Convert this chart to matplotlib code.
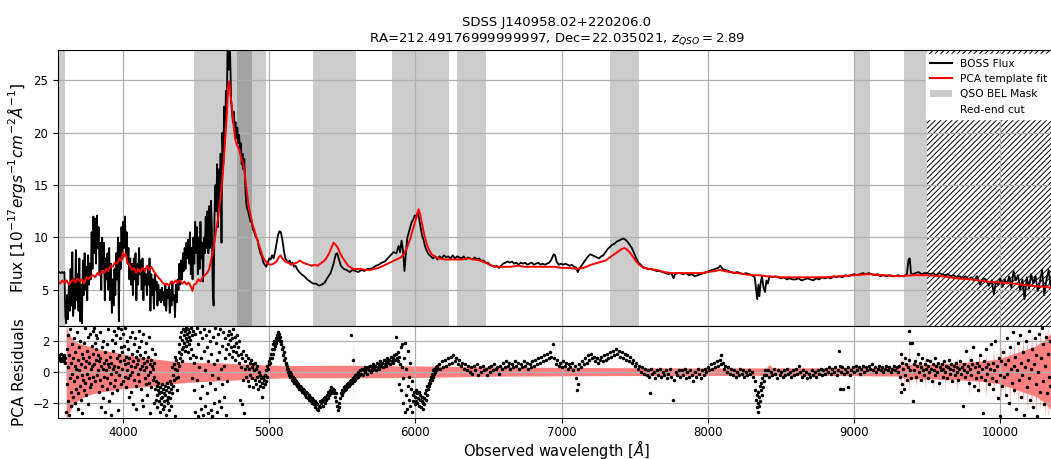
import numpy as np
import matplotlib
matplotlib.use("Agg")
import matplotlib.pyplot as plt
from matplotlib.patches import Patch
from matplotlib.lines import Line2D

plt.rcParams["hatch.linewidth"] = 0.7

# ---------------- data ----------------
TITLE = "SDSS J140958.02+220206.0\nRA=212.49176999999997, Dec=22.035021, $z_{QSO}=2.89$"

# BOSS flux (wavelength [A], flux)
boss_flux = [
    (3556, 6.6), (3565, 6.7), (3575, 6.6), (3585, 6.7), (3595, 6.6), (3600, 6.7),
    (3606, 2.5), (3612, 1.8), (3618, 4.5), (3624, 2.2), (3630, 5.5), (3636, 3.0), (3642, 7.0),
    (3648, 3.5), (3654, 8.6), (3660, 2.5), (3666, 6.0), (3672, 3.2), (3678, 8.8), (3684, 4.0),
    (3690, 6.5), (3696, 3.0), (3702, 8.0), (3708, 2.0), (3714, 5.5), (3720, 1.8), (3726, 7.8),
    (3732, 4.5), (3738, 8.5), (3744, 5.0), (3750, 7.2), (3756, 4.0), (3762, 8.3), (3768, 5.5),
    (3774, 7.5), (3780, 6.0), (3786, 10.5), (3792, 7.0), (3798, 12.0), (3804, 8.5), (3810, 11.8),
    (3816, 7.5), (3822, 12.1), (3828, 9.0), (3834, 11.0), (3840, 6.5), (3846, 9.5), (3852, 5.0),
    (3858, 10.0), (3864, 7.0), (3870, 9.5), (3876, 4.0), (3882, 8.0), (3888, 6.0), (3894, 8.5),
    (3900, 5.0), (3906, 9.0), (3912, 4.0), (3918, 7.5), (3924, 2.8), (3930, 6.0), (3936, 3.5),
    (3942, 7.0), (3948, 4.5), (3954, 8.5), (3960, 6.0), (3966, 10.0), (3972, 2.0), (3978, 9.5),
    (3984, 7.0), (3990, 11.0), (3996, 8.0), (4002, 11.5), (4008, 9.0), (4014, 12.0), (4020, 8.5),
    (4026, 10.5), (4032, 7.5), (4038, 9.0), (4044, 6.0), (4050, 8.0), (4056, 5.5), (4062, 7.5),
    (4068, 4.5), (4074, 8.0), (4080, 6.0), (4086, 8.5), (4092, 4.0), (4098, 7.5), (4104, 5.5),
    (4110, 9.0), (4116, 6.5), (4122, 7.8), (4128, 5.0), (4134, 8.0), (4140, 4.0), (4146, 7.0),
    (4152, 5.5), (4158, 6.5), (4164, 4.5), (4170, 7.0), (4176, 5.5), (4182, 8.0), (4188, 3.0),
    (4194, 6.5), (4200, 4.5), (4206, 6.0), (4212, 3.2), (4218, 6.5), (4224, 5.0), (4230, 5.8),
    (4236, 3.5), (4242, 5.5), (4248, 4.0), (4254, 5.0), (4260, 3.8), (4266, 5.2), (4272, 4.0),
    (4278, 4.8), (4284, 3.5), (4290, 5.5), (4296, 3.0), (4302, 5.0), (4308, 4.2), (4314, 5.3),
    (4320, 2.8), (4326, 5.0), (4332, 3.5), (4338, 5.8), (4344, 4.0), (4350, 4.5), (4356, 2.4),
    (4362, 5.5), (4368, 3.8), (4374, 6.0), (4380, 5.0), (4386, 7.5), (4392, 5.5), (4398, 7.8),
    (4404, 6.0), (4410, 8.5), (4416, 6.8), (4422, 9.0), (4428, 7.0), (4434, 9.5), (4440, 8.0),
    (4446, 9.8), (4452, 7.5), (4458, 10.5), (4464, 6.5), (4470, 9.0), (4476, 6.0), (4482, 10.0),
    (4488, 7.5), (4494, 11.5), (4500, 8.5), (4506, 11.0), (4512, 6.5), (4518, 10.0), (4524, 7.0),
    (4530, 11.5), (4536, 8.0), (4542, 9.5), (4548, 5.8), (4554, 10.0), (4560, 8.5), (4566, 12.0),
    (4572, 9.0), (4578, 12.5), (4584, 8.5), (4590, 13.0), (4596, 9.0), (4602, 13.5), (4608, 11.0),
    (4614, 5.0), (4620, 3.5), (4626, 12.0), (4632, 15.0), (4638, 12.5), (4644, 17.0), (4650, 11.0),
    (4656, 16.5), (4662, 13.0), (4668, 18.0), (4674, 9.5), (4680, 20.0), (4686, 17.0), (4692, 22.5),
    (4698, 19.0), (4704, 24.0), (4710, 22.0), (4716, 29.0), (4722, 26.0), (4728, 30.0), (4734, 27.0),
    (4740, 23.0), (4746, 22.0), (4752, 21.0), (4758, 22.0), (4764, 20.5), (4770, 21.0), (4776, 19.5),
    (4782, 20.5), (4788, 19.0), (4794, 19.8), (4800, 18.5), (4806, 19.0), (4812, 17.0), (4818, 18.0),
    (4824, 16.5), (4830, 17.5), (4836, 15.0), (4842, 13.5), (4848, 12.8), (4856, 12.5), (4864, 12.0),
    (4872, 11.5), (4880, 11.6), (4888, 10.8), (4896, 10.6), (4904, 10.2), (4912, 10.0), (4920, 9.8),
    (4930, 9.0), (4940, 8.5), (4950, 8.2), (4960, 7.6), (4970, 7.4), (4980, 7.2), (4990, 7.6),
    (5000, 8.0), (5010, 7.9), (5020, 8.3), (5030, 8.0), (5040, 8.6), (5050, 9.4), (5060, 10.2),
    (5070, 10.6), (5080, 10.5), (5090, 9.8), (5100, 8.8), (5110, 8.0), (5120, 7.8), (5130, 7.6),
    (5140, 7.8), (5150, 7.4), (5160, 7.6), (5170, 7.2), (5180, 7.3), (5190, 7.0), (5200, 6.8),
    (5220, 6.5), (5240, 6.3), (5260, 6.0), (5280, 5.8), (5300, 5.6), (5320, 5.6), (5340, 5.4),
    (5360, 5.5), (5380, 5.7), (5400, 6.2), (5420, 6.6), (5440, 7.5), (5455, 8.4), (5465, 8.5),
    (5475, 8.0), (5490, 7.3), (5510, 7.0), (5530, 6.9), (5550, 6.7), (5570, 6.9), (5590, 6.8),
    (5610, 6.7), (5630, 6.9), (5650, 6.8), (5670, 7.0), (5690, 7.0), (5710, 7.1), (5730, 7.3),
    (5750, 7.4), (5770, 7.6), (5790, 7.7), (5810, 8.0), (5830, 8.3), (5850, 8.6), (5870, 8.5),
    (5885, 9.2), (5895, 8.6), (5905, 9.7), (5915, 8.8), (5925, 6.8), (5935, 8.5), (5945, 10.0),
    (5955, 10.5), (5965, 11.0), (5975, 11.5), (5985, 11.7), (5995, 12.1), (6005, 12.0), (6015, 12.3),
    (6025, 11.8), (6035, 11.0), (6045, 10.2), (6055, 9.8), (6065, 9.2), (6075, 8.8), (6090, 8.4),
    (6105, 8.2), (6120, 8.0), (6135, 8.2), (6150, 7.9), (6165, 8.2), (6180, 8.0), (6195, 8.3),
    (6210, 8.1), (6225, 8.2), (6240, 8.0), (6255, 8.3), (6270, 8.0), (6285, 8.2), (6300, 8.1),
    (6315, 8.0), (6330, 8.2), (6345, 7.9), (6360, 8.1), (6375, 8.0), (6390, 7.9), (6405, 8.1),
    (6420, 7.9), (6435, 8.0), (6450, 7.8), (6465, 7.8), (6480, 7.6), (6495, 7.6), (6510, 7.4),
    (6525, 7.3), (6540, 7.2), (6555, 7.3), (6570, 7.1), (6585, 7.3), (6600, 7.5), (6615, 7.6),
    (6630, 7.7), (6645, 7.6), (6660, 7.7), (6675, 7.5), (6690, 7.6), (6705, 7.4), (6720, 7.6),
    (6735, 7.5), (6750, 7.6), (6765, 7.4), (6780, 7.5), (6795, 7.6), (6810, 7.4), (6825, 7.5),
    (6840, 7.6), (6855, 7.4), (6870, 7.5), (6885, 7.4), (6900, 7.5), (6915, 7.6), (6930, 7.9),
    (6945, 8.4), (6955, 8.3), (6965, 7.7), (6980, 7.4), (6995, 7.5), (7010, 7.4), (7025, 7.5),
    (7040, 7.4), (7055, 7.3), (7070, 7.4), (7085, 7.2), (7100, 7.1), (7110, 6.7), (7120, 7.0),
    (7135, 7.3), (7150, 7.6), (7165, 7.9), (7180, 8.2), (7195, 8.4), (7210, 8.3), (7225, 8.2),
    (7240, 8.1), (7255, 8.0), (7270, 8.2), (7285, 8.3), (7300, 8.6), (7315, 8.9), (7330, 9.1),
    (7345, 9.3), (7360, 9.4), (7375, 9.6), (7390, 9.7), (7405, 9.8), (7420, 9.9), (7435, 9.8),
    (7450, 9.6), (7465, 9.3), (7480, 9.0), (7495, 8.5), (7510, 8.0), (7525, 7.6), (7540, 7.4),
    (7555, 7.2), (7570, 7.1), (7590, 7.0), (7610, 7.0), (7630, 6.9), (7650, 6.8), (7670, 6.8),
    (7690, 6.7), (7710, 6.6), (7730, 6.5), (7750, 6.6), (7765, 6.1), (7775, 6.5), (7790, 6.6),
    (7810, 6.6), (7830, 6.5), (7850, 6.6), (7870, 6.4), (7890, 6.5), (7910, 6.3), (7930, 6.4),
    (7950, 6.5), (7970, 6.6), (7990, 6.7), (8010, 6.8), (8030, 6.9), (8050, 7.0), (8070, 7.1),
    (8085, 7.3), (8100, 7.0), (8120, 6.9), (8140, 6.8), (8160, 6.7), (8180, 6.6), (8200, 6.7),
    (8220, 6.6), (8240, 6.5), (8260, 6.6), (8280, 6.5), (8300, 6.4), (8320, 6.2), (8330, 5.0),
    (8337, 4.1), (8345, 5.5), (8352, 4.4), (8360, 5.6), (8370, 6.3), (8380, 5.2), (8390, 4.8),
    (8400, 5.9), (8410, 5.6), (8420, 6.3), (8440, 6.2), (8460, 6.3), (8480, 6.2), (8500, 6.1),
    (8520, 6.2), (8540, 6.0), (8560, 6.1), (8580, 6.0), (8600, 6.0), (8620, 6.1), (8640, 5.9),
    (8660, 6.0), (8680, 6.1), (8700, 6.0), (8720, 5.9), (8740, 6.1), (8760, 6.0), (8780, 6.2),
    (8800, 6.1), (8820, 6.2), (8840, 6.1), (8860, 6.3), (8880, 6.2), (8900, 6.3), (8920, 6.2),
    (8940, 6.4), (8960, 6.3), (8980, 6.4), (9000, 6.5), (9020, 6.4), (9040, 6.5), (9060, 6.6),
    (9080, 6.5), (9100, 6.6), (9120, 6.5), (9140, 6.4), (9160, 6.5), (9180, 6.3), (9200, 6.4),
    (9220, 6.3), (9240, 6.4), (9260, 6.3), (9280, 6.3), (9300, 6.4), (9320, 6.3), (9340, 6.3),
    (9360, 6.5), (9372, 7.9), (9380, 8.0), (9388, 6.6), (9400, 6.5), (9420, 6.6), (9440, 6.7),
    (9460, 6.5), (9480, 6.6), (9500, 6.6), (9520, 6.5), (9540, 6.6), (9560, 6.4), (9580, 6.6),
    (9600, 6.5), (9620, 6.4), (9640, 6.5), (9660, 6.3), (9680, 6.4), (9700, 6.2), (9720, 6.3),
    (9740, 6.1), (9760, 6.3), (9780, 6.0), (9800, 6.2), (9820, 5.9), (9840, 6.3), (9860, 5.5),
    (9880, 6.1), (9900, 6.0), (9920, 5.4), (9940, 5.9), (9955, 4.6), (9970, 5.8), (9985, 5.5),
    (10000, 6.1), (10015, 5.3), (10030, 6.0), (10045, 5.6), (10060, 6.3), (10075, 5.2), (10090, 6.8),
    (10105, 5.9), (10120, 6.4), (10135, 5.0), (10150, 6.0), (10165, 4.1), (10180, 6.2), (10195, 5.1),
    (10210, 6.5), (10225, 5.6), (10240, 6.3), (10255, 4.9), (10270, 5.8), (10285, 6.9), (10300, 4.5),
    (10315, 6.0), (10330, 6.9), (10345, 5.2),
]

# PCA template fit (wavelength [A], flux)
pca_fit = [
    (3556, 5.8), (3570, 5.6), (3585, 5.9), (3600, 5.7), (3615, 5.9), (3630, 5.5), (3645, 5.8),
    (3660, 6.0), (3675, 5.7), (3690, 6.1), (3705, 5.8), (3720, 6.0), (3735, 5.6), (3750, 6.2),
    (3765, 6.0), (3780, 6.3), (3795, 6.4), (3810, 6.2), (3825, 6.6), (3840, 6.4), (3855, 6.8),
    (3870, 6.6), (3885, 7.0), (3900, 6.8), (3915, 7.3), (3930, 7.2), (3945, 7.6), (3960, 7.5),
    (3975, 8.0), (3990, 7.8), (4000, 8.6), (4010, 8.2), (4020, 8.4), (4030, 7.6), (4045, 7.4),
    (4060, 6.9), (4075, 7.1), (4090, 6.6), (4105, 7.0), (4120, 6.7), (4135, 7.1), (4150, 6.8),
    (4165, 7.3), (4180, 6.9), (4195, 7.2), (4210, 6.8), (4225, 6.5), (4240, 6.2), (4255, 6.0),
    (4270, 5.7), (4285, 5.5), (4300, 5.6), (4315, 5.4), (4330, 5.8), (4345, 5.6), (4360, 5.9),
    (4375, 5.7), (4390, 5.9), (4405, 5.6), (4420, 5.8), (4435, 5.5), (4450, 5.7), (4465, 5.3),
    (4475, 4.9), (4485, 5.5), (4500, 5.6), (4515, 6.0), (4530, 5.8), (4545, 6.2), (4560, 6.4),
    (4575, 6.6), (4590, 7.0), (4605, 8.0), (4620, 9.0), (4635, 10.5), (4650, 11.8), (4665, 13.5),
    (4680, 15.5), (4695, 18.5), (4710, 21.7), (4720, 24.5), (4728, 24.9), (4736, 23.5), (4745, 22.5),
    (4755, 21.0), (4766, 19.5), (4780, 18.8), (4795, 18.4), (4805, 17.8), (4815, 17.3), (4825, 17.0),
    (4835, 15.8), (4846, 14.5), (4858, 13.2), (4870, 12.3), (4885, 11.3), (4903, 10.5), (4920, 9.7),
    (4937, 9.0), (4955, 8.2), (4971, 7.8), (4990, 7.5), (5010, 7.4), (5030, 7.5), (5050, 7.7),
    (5065, 8.1), (5078, 8.3), (5090, 8.0), (5110, 7.7), (5130, 7.6), (5150, 7.4), (5170, 7.5),
    (5190, 7.6), (5210, 7.8), (5230, 7.6), (5250, 7.5), (5270, 7.4), (5290, 7.3), (5310, 7.4),
    (5330, 7.3), (5350, 7.5), (5370, 7.7), (5390, 8.0), (5410, 8.5), (5425, 9.0), (5440, 9.5),
    (5455, 9.3), (5470, 9.0), (5485, 8.5), (5500, 8.1), (5520, 7.7), (5540, 7.3), (5560, 7.1),
    (5580, 7.0), (5600, 7.0), (5630, 7.0), (5660, 6.9), (5690, 6.9), (5720, 7.0), (5750, 7.1),
    (5780, 7.3), (5810, 7.5), (5840, 7.7), (5870, 7.9), (5900, 8.1), (5925, 8.5), (5945, 9.1),
    (5965, 9.9), (5985, 10.9), (6000, 11.6), (6012, 12.3), (6022, 12.7), (6032, 12.2), (6045, 11.3),
    (6060, 10.3), (6075, 9.5), (6090, 8.9), (6110, 8.4), (6130, 8.2), (6160, 8.0), (6200, 7.9),
    (6240, 7.9), (6280, 7.9), (6320, 7.9), (6360, 8.0), (6400, 7.9), (6440, 7.8), (6480, 7.6),
    (6520, 7.3), (6560, 7.2), (6600, 7.2), (6650, 7.2), (6700, 7.3), (6750, 7.2), (6800, 7.2),
    (6850, 7.2), (6900, 7.2), (6950, 7.2), (7000, 7.1), (7050, 7.1), (7100, 7.0), (7150, 7.1),
    (7200, 7.4), (7250, 7.6), (7300, 7.8), (7340, 8.2), (7380, 8.6), (7410, 8.9), (7430, 9.0),
    (7450, 8.8), (7470, 8.5), (7490, 8.1), (7510, 7.7), (7530, 7.4), (7560, 7.1), (7600, 7.0),
    (7650, 6.9), (7700, 6.7), (7750, 6.6), (7800, 6.6), (7850, 6.6), (7900, 6.6), (7950, 6.6),
    (8000, 6.7), (8050, 6.8), (8080, 6.9), (8110, 6.8), (8150, 6.7), (8200, 6.6), (8250, 6.5),
    (8300, 6.4), (8350, 6.4), (8400, 6.3), (8500, 6.2), (8600, 6.2), (8700, 6.2), (8800, 6.2),
    (8900, 6.3), (9000, 6.4), (9100, 6.5), (9200, 6.4), (9300, 6.3), (9400, 6.4), (9500, 6.4),
    (9600, 6.3), (9700, 6.1), (9800, 6.0), (9900, 5.8), (10000, 5.7), (10100, 5.6), (10200, 5.4),
    (10300, 5.3), (10345, 5.2),
]

# QSO broad-emission-line masks (start, end) [A]
bel_masks = [(3540, 3603), (4486, 4977), (4780, 4881), (5300, 5595), (5843, 6231),
             (6286, 6483), (7333, 7530), (9008, 9111), (9339, 9500)]
red_end_cut = 9500

# PCA residual error band: (wavelength, upper, lower magnitude)
resid_err = [
    (3611, 0.0, 0.0), (3612, 3.1, 3.1), (3625, 2.6, 2.8), (3650, 2.2, 2.3), (3675, 2.0, 2.0),
    (3700, 1.85, 1.8), (3762, 1.7, 1.5), (3850, 1.45, 1.3), (3991, 1.2, 1.1), (4100, 1.0, 1.0),
    (4219, 0.85, 0.9), (4330, 0.72, 0.78), (4447, 0.63, 0.67), (4676, 0.59, 0.56), (4904, 0.48, 0.45),
    (5130, 0.42, 0.38), (5500, 0.44, 0.38), (5574, 0.44, 0.38), (5576, 2.0, 1.8), (5578, 0.44, 0.38),
    (6000, 0.40, 0.36), (6500, 0.33, 0.28), (7000, 0.30, 0.25), (7500, 0.28, 0.23), (8000, 0.26, 0.22),
    (8400, 0.27, 0.22), (8420, 0.5, 0.2), (8440, 0.27, 0.22), (8900, 0.28, 0.23), (9300, 0.32, 0.27),
    (9315, 0.35, 0.3), (9318, 1.6, 1.7), (9321, 0.4, 0.35), (9340, 0.45, 0.4), (9343, 1.3, 1.0),
    (9346, 0.45, 0.4), (9370, 0.45, 0.4), (9373, 1.9, 1.4), (9376, 0.5, 0.4), (9420, 0.5, 0.45),
    (9423, 1.2, 0.9), (9426, 0.5, 0.45), (9480, 0.5, 0.45), (9483, 0.9, 1.1), (9486, 0.5, 0.45),
    (9540, 0.5, 0.45), (9543, 0.8, 1.2), (9546, 0.55, 0.45), (9620, 0.55, 0.5), (9623, 0.9, 1.1),
    (9626, 0.55, 0.5), (9700, 0.6, 0.5), (9703, 1.0, 1.3), (9706, 0.6, 0.5), (9780, 0.65, 0.55),
    (9783, 1.2, 1.5), (9786, 0.65, 0.55), (9850, 0.7, 0.6), (9853, 1.4, 1.3), (9856, 0.7, 0.6),
    (9900, 0.75, 0.65), (9903, 1.1, 1.8), (9906, 0.75, 0.65), (9950, 0.8, 0.7), (9953, 1.6, 1.2),
    (9956, 0.8, 0.7), (10000, 0.9, 0.8), (10003, 1.8, 1.9), (10006, 0.9, 0.8), (10030, 1.0, 0.9),
    (10033, 2.0, 1.5), (10036, 1.0, 0.9), (10060, 1.1, 1.0), (10063, 1.5, 2.2), (10066, 1.1, 1.0),
    (10090, 1.2, 1.1), (10093, 2.2, 1.7), (10096, 1.2, 1.1), (10120, 1.3, 1.2), (10123, 1.8, 2.4),
    (10126, 1.3, 1.2), (10150, 1.4, 1.3), (10153, 2.4, 2.0), (10156, 1.4, 1.3), (10180, 1.5, 1.4),
    (10183, 2.0, 2.6), (10186, 1.5, 1.4), (10210, 1.6, 1.5), (10213, 2.6, 2.2), (10216, 1.6, 1.5),
    (10240, 1.7, 1.6), (10243, 2.2, 2.8), (10246, 1.7, 1.6), (10270, 1.9, 1.8), (10273, 3.0, 2.5),
    (10276, 1.9, 1.8), (10300, 2.0, 2.0), (10303, 2.6, 3.0), (10306, 2.1, 2.0), (10320, 2.3, 2.2),
    (10323, 3.0, 3.0), (10326, 2.3, 2.2), (10345, 2.6, 2.5),
]

# PCA residuals (wavelength, residual)
resid_blue = [
    (3558, 1.0), (3562, 0.8), (3566, 1.1), (3570, 0.9), (3574, 0.7), (3578, 1.2), (3582, 0.9),
    (3586, 0.8), (3590, 1.0), (3594, 0.7), (3598, 1.1), (3602, 0.9), (3606, 0.6),
    (3612, -2.6), (3615, 1.5), (3618, -0.8), (3621, 2.4), (3624, -1.9), (3627, 0.3), (3630, -2.8),
    (3633, 1.1), (3636, -0.4), (3639, 2.8), (3642, -1.3), (3645, 0.6), (3648, -2.2), (3651, 1.8),
    (3654, -0.1), (3657, 0.9), (3660, -1.6), (3663, 2.2), (3666, -0.6), (3669, 0.4), (3672, -2.0),
    (3675, 1.3), (3678, -1.1), (3681, 0.2), (3684, 2.6), (3687, -0.3), (3690, -1.4), (3693, 0.8),
    (3696, -2.4), (3699, 1.6), (3702, 0.1), (3705, -0.9), (3708, 2.0), (3711, -1.8), (3714, 0.5),
    (3717, -0.2), (3720, 1.2), (3723, -2.7), (3726, 0.9), (3729, -0.5), (3732, 1.9), (3735, -1.2),
    (3738, 0.3), (3741, 2.9), (3744, -0.7), (3747, 0.7), (3750, -1.5), (3753, 1.4), (3756, -0.1),
    (3759, 2.3), (3762, -2.1), (3765, 0.6), (3768, -0.4), (3771, 1.0), (3774, -1.0), (3777, 2.5),
    (3780, 0.2), (3783, -0.8), (3786, 1.7), (3789, 0.4), (3792, 2.7), (3795, -0.3), (3798, 1.2),
    (3801, 2.9), (3804, 0.5), (3807, 1.9), (3810, -0.6), (3813, 2.4), (3816, 0.8), (3819, 1.5),
    (3822, -0.2), (3825, 2.2), (3828, 0.1), (3831, 1.1), (3834, -1.3), (3837, 0.7), (3840, 2.6),
    (3843, -0.5), (3846, 0.9), (3849, -2.3), (3852, 0.4), (3855, 1.6), (3858, -0.9), (3861, 0.2),
    (3864, 2.0), (3867, -1.7), (3870, 0.6), (3873, -0.3), (3876, 1.3), (3879, -2.6), (3882, 0.1),
    (3885, 0.8), (3888, -1.1), (3891, 1.8), (3894, -0.4), (3897, 0.5), (3900, 2.8), (3903, -1.9),
    (3906, 0.3), (3909, -0.7), (3912, 1.0), (3915, -2.8), (3918, 0.6), (3921, -0.1), (3924, 2.1),
    (3927, -1.4), (3930, 0.2), (3933, 1.4), (3936, -0.9), (3939, 2.7), (3942, 0.4), (3945, -0.5),
    (3948, 1.9), (3951, 0.0), (3954, 2.4), (3957, -1.2), (3960, 0.9), (3963, 2.9), (3966, 0.3),
    (3969, -2.5), (3972, 1.1), (3975, -0.2), (3978, 2.2), (3981, 0.7), (3984, -0.8), (3987, 1.6),
    (3990, 2.8), (3993, 0.2), (3996, 1.3), (3999, -0.6), (4002, 2.5), (4005, 0.8), (4008, 1.7),
    (4011, -0.3), (4014, 2.9), (4017, 0.5), (4020, 1.0), (4023, -1.0), (4026, 2.0), (4029, 0.1),
    (4032, -0.4), (4035, 1.5), (4038, 0.6), (4041, -1.6), (4044, 0.9), (4047, 2.3), (4050, -0.2),
    (4053, 0.4), (4056, -1.3), (4059, 1.2), (4062, 0.0), (4065, 2.6), (4068, -2.1), (4071, 0.7),
    (4074, 1.8), (4077, -0.5), (4080, 0.3), (4083, 2.2), (4086, 1.0), (4089, -0.9), (4092, -2.4),
    (4095, 0.5), (4098, 1.4), (4101, -0.1), (4104, 0.8), (4107, 2.7), (4110, 1.6), (4113, -0.6),
    (4116, 0.2), (4119, 1.1), (4122, -1.1), (4125, 2.0), (4128, 0.4), (4131, -1.8), (4134, 0.9),
    (4137, 2.5), (4140, -2.2), (4143, 0.1), (4146, 0.6), (4149, -0.4), (4152, 1.3), (4155, -0.8),
    (4158, 0.3), (4161, 1.9), (4164, -1.5), (4167, 0.7), (4170, -0.2), (4173, 1.0), (4176, -0.7),
    (4179, 2.3), (4182, 0.5), (4185, -2.7), (4188, 0.0), (4191, 0.8), (4194, -1.0), (4197, 0.4),
    (4200, 1.5), (4203, -0.5), (4206, 0.2), (4209, -2.0), (4212, 0.6), (4215, -0.3), (4218, 1.2),
    (4221, -1.1), (4224, -0.6), (4227, -1.8), (4230, -0.9), (4233, -1.5), (4236, -2.3), (4239, -1.2),
    (4242, -0.7), (4245, -1.9), (4248, -1.4), (4251, -2.6), (4254, -1.0), (4257, -1.7), (4260, -2.1),
    (4263, -1.3), (4266, -0.8), (4269, -1.6), (4272, -2.4), (4275, -1.1), (4278, -1.9), (4281, -1.4),
    (4284, -2.2), (4287, -0.9), (4290, -1.5), (4293, -2.8), (4296, -1.2), (4299, -1.8), (4302, -0.7),
    (4305, -1.6), (4308, -2.0), (4311, -1.0), (4314, -1.3), (4317, -2.5), (4320, -0.6), (4323, -1.7),
    (4326, -1.1), (4329, -2.2), (4332, -0.8), (4335, -1.4), (4338, 0.3), (4341, -0.9), (4344, -0.2),
    (4347, 0.5), (4350, -0.5), (4353, 1.0), (4356, -2.9), (4359, 0.2), (4362, -0.4), (4365, 0.8),
    (4368, -1.2), (4371, 0.1), (4374, 0.6), (4377, -0.3), (4380, 1.3),
    (4383, 0.4), (4386, 1.8), (4389, 0.9), (4392, 2.3), (4395, 1.2), (4398, 2.6), (4401, 1.5),
    (4404, 0.7), (4407, 2.1), (4410, 2.8), (4413, 1.6), (4416, 2.4), (4419, 1.9), (4422, 2.7),
    (4425, 1.4), (4428, 2.2), (4431, 2.9), (4434, 1.7), (4437, 2.5), (4440, 2.0), (4443, 2.8),
    (4446, 1.3), (4449, 2.3), (4452, 1.8), (4455, 2.6), (4458, 0.9), (4461, 2.1), (4464, 2.9),
    (4467, 1.5), (4470, 2.4), (4473, -0.4), (4476, 1.1), (4479, 2.7),
]

resid_lya = [
    (4484, -1.2), (4488, 0.6), (4492, 2.5), (4496, -2.6), (4500, 1.0), (4504, 2.9), (4508, -0.5),
    (4512, -2.9), (4516, 1.8), (4520, 0.3), (4524, -1.7), (4528, 2.6), (4532, -2.4), (4536, 0.9),
    (4540, 2.2), (4544, -0.9), (4548, -2.8), (4552, 1.4), (4556, 2.8), (4560, 0.1), (4564, -2.2),
    (4568, 2.4), (4572, -1.4), (4576, 1.6), (4580, -2.7), (4584, 0.7), (4588, 2.7), (4592, -0.7),
    (4596, 2.0), (4600, -2.5), (4604, 1.2), (4608, -0.2), (4612, -2.9), (4616, 2.3), (4620, -2.0),
    (4624, 0.5), (4628, 2.9), (4632, -1.1), (4636, 1.9), (4640, -2.6), (4644, 0.8), (4648, 2.5),
    (4652, -0.4), (4656, 1.3), (4660, -1.9), (4664, 2.8), (4668, 0.2), (4672, -2.3), (4676, 1.7),
    (4680, -0.8), (4684, 2.6), (4688, 0.4), (4692, -1.6), (4696, 2.2), (4700, 0.9), (4704, -2.8),
    (4708, 1.5), (4712, -0.6), (4716, 2.4), (4720, 1.8), (4724, 2.7), (4728, 1.2), (4732, 2.1),
    (4736, 1.6), (4740, 2.5), (4744, 1.0), (4748, 2.2), (4752, 1.4), (4756, 2.8), (4760, 1.7),
    (4764, 2.3), (4768, 0.8), (4772, 1.9), (4776, 1.3), (4780, 2.4), (4784, 1.1), (4788, 1.6),
    (4792, 0.6), (4796, 2.0), (4800, -1.8), (4804, 1.2), (4808, 0.3), (4812, -2.1), (4816, 0.9),
    (4820, -0.5), (4824, 1.4), (4828, -2.7), (4832, 0.2), (4836, 0.7), (4840, -0.3), (4844, 1.1),
    (4848, 0.4), (4852, -0.6), (4856, 0.9), (4860, 0.2), (4864, -0.9), (4868, 0.6), (4872, -0.2),
    (4876, 0.8), (4880, 0.3), (4884, -0.4), (4888, 0.5), (4892, -1.0), (4896, 0.1), (4900, 0.6),
    (4904, -0.5), (4908, 0.2), (4912, -0.8), (4916, 0.4), (4920, -0.3), (4924, -1.1), (4928, 0.0),
    (4932, -0.6), (4936, -0.2), (4940, -0.9), (4944, -0.4), (4948, -1.6), (4952, -0.7), (4956, -0.3),
    (4960, -1.0), (4964, -0.5), (4968, -0.8), (4972, -0.2), (4976, -0.6), (4980, 0.1), (4984, -0.3),
    (4988, 0.4), (4992, 0.2), (4996, 0.7),
    (5000, 0.5), (5004, 0.9), (5008, 0.6), (5012, 1.2), (5016, 0.9), (5020, 1.5), (5024, 1.2),
    (5028, 1.8), (5032, 1.5), (5036, 2.0), (5040, 1.7), (5044, 2.2), (5048, 1.9), (5052, 2.4),
    (5056, 2.1), (5060, 2.6), (5064, 2.2), (5068, 2.5), (5072, 2.0), (5076, 2.3), (5080, 1.8),
    (5084, 2.0), (5088, 1.5), (5092, 1.6), (5096, 1.1), (5100, 1.3), (5104, 0.8), (5108, 0.9),
    (5112, 0.5), (5116, 0.6), (5120, 0.2), (5124, 0.4), (5128, 0.0), (5132, 0.2), (5136, -0.2),
    (5140, 0.0), (5144, -0.3), (5148, -0.1),
]

resid_civ = [
    (5152, -0.2), (5156, -0.5), (5160, -0.3), (5164, -0.6), (5168, -0.4), (5172, -0.7), (5176, -0.5),
    (5180, -0.8), (5184, -0.6), (5188, -0.9), (5192, -0.7), (5196, -1.0), (5200, -0.8), (5205, -1.1),
    (5210, -0.9), (5215, -1.2), (5220, -1.0), (5225, -1.3), (5230, -1.1), (5235, -1.4), (5240, -1.2),
    (5245, -1.5), (5250, -1.3), (5255, -1.6), (5260, -1.4), (5265, -1.7), (5270, -1.5), (5275, -1.8),
    (5280, -1.6), (5285, -1.9), (5290, -1.7), (5295, -2.0), (5300, -1.8), (5305, -2.1), (5310, -1.9),
    (5315, -2.3), (5320, -2.0), (5325, -2.4), (5330, -2.1), (5335, -2.5), (5340, -2.2), (5345, -1.9),
    (5350, -2.3), (5355, -2.0), (5360, -1.8), (5365, -2.2), (5370, -1.9), (5375, -1.7), (5380, -2.0),
    (5385, -1.6), (5390, -1.8), (5395, -1.5), (5400, -1.7), (5405, -1.3), (5410, -1.5), (5415, -1.2),
    (5420, -1.4), (5425, -1.0), (5430, -1.3), (5435, -1.1), (5440, -1.4), (5445, -1.2), (5450, -1.6),
    (5455, -1.4), (5460, -1.9), (5465, -2.2), (5470, -2.5), (5475, -2.0), (5480, -2.3), (5485, -1.7),
    (5490, -1.4), (5495, -1.5), (5500, -1.2), (5505, -1.3), (5510, -1.0), (5515, -1.2), (5520, -0.9),
    (5525, -1.1), (5530, -0.8), (5535, -1.0), (5540, -0.7), (5545, -0.9), (5550, -0.6), (5555, -0.8),
    (5560, 2.4), (5562, -0.5), (5566, -0.7), (5570, 0.8), (5574, -0.4), (5578, -0.6), (5582, -0.3),
    (5586, -0.5), (5590, -0.2), (5594, -0.4), (5598, -0.1),
    (5604, -0.3), (5610, 0.0), (5616, -0.2), (5622, 0.1), (5628, -0.1), (5634, 0.2), (5640, -0.2),
    (5646, 0.1), (5652, 0.3), (5658, 0.0), (5664, 0.2), (5670, -0.1), (5676, 0.3), (5682, 0.1),
    (5688, 0.4), (5694, 0.0), (5700, 0.3), (5706, 0.1), (5712, 0.5), (5718, 0.2), (5724, 0.4),
    (5730, 0.1), (5736, 0.6), (5742, 0.3), (5748, 0.5), (5754, 0.2), (5760, 0.7), (5766, 0.4),
    (5772, 0.6), (5778, 0.3), (5784, 0.8), (5790, 0.5), (5796, 0.7), (5802, 0.4), (5808, 0.9),
    (5814, 0.6), (5820, 0.8), (5826, 0.5), (5832, 1.0), (5838, 0.7), (5844, 0.9), (5850, 0.6),
    (5856, 1.1), (5862, 0.8), (5866, 2.3), (5870, 1.2), (5874, 0.9), (5878, 1.3), (5882, 0.7),
    (5886, 1.0), (5890, -0.8), (5894, 0.5), (5898, 1.6), (5902, -1.2), (5906, 0.3), (5910, 1.8),
    (5914, -0.4), (5918, -2.0), (5922, 0.9), (5926, -2.6), (5930, 1.9), (5934, -1.5), (5938, 0.2),
    (5942, -2.4), (5946, -0.9), (5950, 1.4), (5954, -1.8), (5958, -0.3), (5962, -2.2), (5966, 0.6),
    (5970, -1.1), (5974, -2.6), (5978, -0.6), (5982, -1.5), (5986, -1.9), (5990, -1.3), (5994, -2.1),
    (5998, -1.6), (6002, -1.2), (6006, -1.9), (6010, -1.4), (6014, -2.0), (6018, -1.7), (6022, -1.3),
    (6026, -2.2), (6030, -1.8), (6034, -1.5), (6038, -2.3), (6042, -1.9), (6046, -1.6), (6050, -2.4),
    (6054, -2.0), (6058, -1.7), (6062, -2.1), (6066, -1.4), (6070, -1.8), (6074, -1.2), (6078, -1.5),
    (6082, -0.9), (6086, -1.1), (6090, -0.7), (6094, -0.9), (6098, -0.5), (6102, -0.7), (6106, -0.3),
    (6110, -0.5), (6114, -0.1), (6118, -0.3), (6122, 0.1), (6126, -0.1), (6130, 0.2), (6134, 0.0),
    (6138, 0.3), (6142, 0.1), (6146, 0.4), (6150, 0.2),
]

resid_red = [
    (6160, 0.5), (6170, 0.2), (6180, 0.7), (6190, 0.3), (6200, 0.8), (6210, 0.4), (6220, 0.9),
    (6230, 0.5), (6240, 1.0), (6250, 0.6), (6260, 1.1), (6270, 0.7), (6280, 0.9), (6290, 0.5),
    (6300, 0.8), (6310, 0.4), (6320, 0.6), (6330, 0.2), (6340, 0.5), (6350, 0.1), (6360, 0.4),
    (6370, 0.0), (6380, 0.3), (6390, -0.1), (6400, 0.4), (6410, 0.1), (6420, 0.5), (6430, -0.2),
    (6440, 0.3), (6450, 0.0), (6460, 0.4), (6470, 0.1), (6480, 0.2), (6490, -0.2), (6500, 0.3),
    (6510, 0.0), (6520, 0.4), (6530, 0.1), (6540, 0.5), (6550, 0.2), (6560, 0.3), (6570, -0.1),
    (6580, 0.4), (6590, 0.2), (6600, 0.6), (6610, 0.3), (6620, 0.7), (6630, 0.4), (6640, 0.6),
    (6650, 0.2), (6660, 0.5), (6670, 0.3), (6680, 0.7), (6690, 0.4), (6700, 0.6), (6710, 0.2),
    (6720, 0.5), (6730, 0.3), (6740, 0.7), (6750, 0.4), (6760, 0.6), (6770, 0.2), (6780, 0.5),
    (6790, 0.3), (6800, 0.7), (6810, 0.4), (6820, 0.8), (6830, 0.5), (6840, 0.9), (6850, 0.6),
    (6860, 1.0), (6870, 0.7), (6880, 1.1), (6890, 0.8), (6900, 1.2), (6910, 0.9), (6920, 1.3),
    (6930, 1.0), (6940, 1.8), (6950, 0.9), (6960, 0.5), (6970, 0.8), (6980, 0.4), (6990, 0.6),
    (7000, 0.3), (7010, 0.7), (7020, 0.4), (7030, 0.6), (7040, 0.2), (7050, 0.5), (7060, 0.3),
    (7070, 0.6), (7080, 0.1), (7090, 0.4), (7100, -0.4), (7105, -1.2), (7110, -0.8), (7115, 0.2),
    (7120, 0.5), (7130, 0.3), (7140, 0.7), (7150, 0.5), (7160, 0.9), (7170, 0.6), (7180, 1.1),
    (7190, 0.8), (7200, 1.2), (7210, 0.9), (7220, 1.0), (7230, 0.7), (7240, 0.9), (7250, 0.6),
    (7260, 0.8), (7270, 1.0), (7280, 0.7), (7290, 1.1), (7300, 0.8), (7310, 1.2), (7320, 0.9),
    (7330, 1.3), (7340, 1.0), (7350, 1.4), (7360, 1.1), (7370, 1.5), (7380, 1.2), (7390, 1.4),
    (7400, 1.0), (7410, 1.3), (7420, 0.9), (7430, 1.2), (7440, 0.8), (7450, 1.1), (7460, 0.7),
    (7470, 1.0), (7480, 0.6), (7490, 0.8), (7500, 0.4), (7510, 0.6), (7520, 0.2), (7530, 0.4),
    (7540, 0.0), (7550, 0.3), (7560, -0.1), (7570, 0.2), (7580, -0.2), (7590, 0.1), (7600, -0.3),
    (7607, -1.4), (7610, 0.2), (7620, -0.1), (7630, 0.0), (7640, -0.4), (7650, 0.1), (7660, -0.2),
    (7670, 0.2), (7680, -0.3), (7690, 0.0), (7700, -0.2), (7710, 0.1), (7720, -0.4), (7730, -0.1),
    (7740, 0.2), (7750, -0.3), (7758, -1.8), (7765, -0.5), (7780, 0.0), (7790, -0.2), (7800, 0.1),
    (7810, -0.3), (7820, 0.1), (7830, -0.2), (7840, 0.2), (7850, -0.4), (7860, 0.0), (7870, -0.3),
    (7880, 0.1), (7890, -0.2), (7900, -0.6), (7910, 0.0), (7920, -0.3), (7930, 0.2), (7940, -0.1),
    (7950, -0.4), (7960, 0.1), (7970, -0.2), (7980, 0.2), (7990, 0.0), (8000, 0.3), (8010, 0.1),
    (8020, 0.5), (8030, 0.2), (8040, 0.6), (8050, 0.3), (8060, 0.7), (8070, 0.4), (8080, 0.8),
    (8086, 1.1), (8090, 0.5), (8100, 0.6), (8110, 0.2), (8120, 0.4), (8130, 0.0), (8140, 0.3),
    (8150, -0.1), (8160, 0.2), (8170, -0.2), (8180, 0.1), (8190, -0.3), (8200, 0.0), (8210, -0.2),
    (8220, 0.2), (8230, -0.1), (8240, 0.1), (8250, -0.3), (8260, 0.0), (8270, -0.2), (8280, 0.1),
    (8290, -0.1), (8300, 0.0), (8310, -0.3), (8320, -0.6), (8325, -1.2), (8330, -1.8), (8333, -2.3),
    (8336, -1.5), (8339, -2.6), (8342, -2.0), (8345, -1.3), (8348, -2.2), (8351, -1.6), (8354, -0.9),
    (8357, -1.9), (8360, -1.2), (8364, -0.7), (8368, -1.5), (8372, -0.4), (8376, -1.0), (8380, -0.2),
    (8386, -0.6), (8392, 0.1), (8400, -0.2), (8410, 0.1), (8420, -0.3), (8430, 0.0), (8440, -0.2),
    (8450, 0.2), (8460, -0.1), (8470, -0.4), (8480, 0.1), (8490, -0.2), (8500, 0.0), (8510, -0.3),
    (8520, 0.1), (8530, -0.2), (8540, 0.2), (8550, -0.1), (8560, 0.0), (8570, -0.3), (8580, 0.1),
    (8590, -0.2), (8600, 0.2), (8610, -0.1), (8620, 0.4), (8630, 0.0), (8640, -0.3), (8650, 0.1),
    (8660, -0.2), (8670, 0.0), (8680, -0.4), (8690, -0.1), (8700, -0.3), (8710, 0.1), (8720, -0.2),
    (8730, 0.0), (8740, -0.3), (8750, 0.1), (8760, -0.1), (8770, 0.2), (8780, -0.2), (8790, 0.1),
    (8800, -0.1), (8810, 0.2), (8820, 0.0), (8830, 0.3), (8840, -0.1), (8850, 0.2), (8860, 0.0),
    (8870, 0.3), (8880, -0.2), (8890, 0.1), (8895, 1.4), (8900, 0.4), (8905, -1.1), (8910, 0.0),
    (8920, 0.3), (8925, -1.1), (8930, -0.1), (8940, 0.2), (8950, 0.0), (8955, -1.0), (8960, 0.3),
    (8970, -0.2), (8980, 0.1), (8990, 0.3), (9000, 0.0), (9010, 0.4), (9020, 0.1), (9030, 0.3),
    (9040, -0.1), (9050, 0.2), (9060, 0.4), (9070, 0.0), (9080, 0.3), (9090, 0.1), (9100, 0.4),
    (9110, 0.2), (9120, 0.5), (9130, 0.1), (9140, 0.3), (9150, 0.0), (9160, 0.2), (9170, 0.4),
    (9180, 0.1), (9190, 0.3), (9200, 0.0), (9210, 0.2), (9220, 0.4), (9230, 0.1), (9240, 0.3),
    (9250, 0.0), (9260, 0.2), (9270, 0.4), (9280, 0.1), (9290, 0.3), (9300, 0.0),
]

resid_cut = [
    (9305, 0.4), (9312, -0.3), (9318, 1.2), (9322, -1.3), (9326, 0.6), (9330, -0.8), (9335, 0.2),
    (9340, -1.1), (9345, 0.9), (9350, -0.2), (9355, 0.5), (9360, -0.5), (9366, 0.3), (9372, 0.8),
    (9378, 2.7), (9380, 1.9), (9384, 0.1), (9390, -0.4), (9396, 1.9), (9400, -1.9), (9406, 0.5),
    (9412, 0.1), (9418, 0.7), (9424, -0.3), (9430, 0.4), (9436, 1.2), (9442, 0.0), (9448, 0.6),
    (9454, -0.5), (9460, 0.3), (9466, 0.9), (9472, 0.1), (9478, -0.2), (9484, 0.5), (9490, 0.2),
    (9496, 0.8), (9502, -0.4), (9508, 0.4), (9514, 0.0), (9520, 0.7), (9526, 0.2), (9532, -0.6),
    (9538, 0.5), (9544, 0.1), (9550, 0.9), (9556, -0.2), (9562, 0.4), (9568, 0.0), (9574, 0.6),
    (9580, -0.7), (9586, 0.3), (9592, 0.1), (9598, 0.5), (9604, -0.3), (9610, 0.2), (9616, 0.7),
    (9622, 0.0), (9628, 0.4), (9634, -0.4), (9640, 0.3), (9646, 0.8), (9652, -0.1), (9658, 0.2),
    (9664, 0.5), (9670, -0.6), (9676, 0.1), (9682, 0.4), (9688, -0.2), (9694, 0.6), (9700, 0.0),
    (9706, 0.3), (9712, -0.5), (9718, 0.2), (9724, 0.7), (9730, -0.1), (9736, 0.3), (9742, -2.2),
    (9748, 0.1), (9754, 0.5), (9760, -0.3), (9766, 1.4), (9772, 0.0), (9778, 0.4), (9784, -0.7),
    (9790, 0.2), (9796, 0.8), (9802, -0.2), (9808, 0.5), (9814, 1.6), (9820, -0.9), (9826, 0.3),
    (9832, -0.4), (9838, 0.6), (9844, 0.0), (9850, -1.2), (9856, 0.4), (9862, 1.1), (9868, -0.3),
    (9874, 0.2), (9880, -2.7), (9886, 0.7), (9892, -0.5), (9898, 0.3), (9904, 1.5), (9910, -0.1),
    (9916, 0.5), (9922, -0.8), (9928, 0.2), (9934, 1.8), (9940, -0.4), (9946, 0.6), (9952, -1.1),
    (9958, 0.1), (9964, 2.0), (9970, -0.6), (9976, 0.4), (9982, -1.7), (9988, 0.9), (9994, -0.2),
    (10000, -2.9), (10006, 0.7), (10012, -0.9), (10018, 1.3), (10024, -0.3), (10030, 0.5), (10036, -1.5),
    (10042, 2.2), (10048, -0.1), (10054, 0.8), (10060, -2.0), (10066, 1.6), (10072, 0.2), (10078, -0.7),
    (10084, 2.6), (10090, -1.2), (10096, 0.4), (10102, 1.0), (10108, -2.4), (10114, 0.1), (10120, 1.9),
    (10126, -0.5), (10132, 2.4), (10138, -1.6), (10144, 0.6), (10150, -0.2), (10156, 1.3), (10162, -2.8),
    (10168, 0.3), (10174, 2.0), (10180, -1.0), (10186, 0.8), (10192, -0.4), (10198, 2.7), (10204, -1.8),
    (10210, 0.2), (10216, 1.5), (10222, -2.3), (10228, 0.5), (10234, 2.2), (10240, -0.8), (10246, 1.1),
    (10252, -2.9), (10258, 0.0), (10264, 2.5), (10270, -1.3), (10276, 0.9), (10282, 2.9), (10288, -0.6),
    (10294, 1.8), (10300, -2.1), (10306, 0.4), (10312, 2.3), (10318, -1.4), (10324, 1.2), (10330, -0.3),
    (10336, 2.0), (10342, -0.9),
]

# ---------------- figure ----------------
W, H = 1051, 459
fig = plt.figure(figsize=(W / 100, H / 100), dpi=100)
x0, x1 = 58 / W, 1056 / W
ax = fig.add_axes([x0, 1 - 326 / H, x1 - x0, 276 / H])
axr = fig.add_axes([x0, 1 - 418 / H, x1 - x0, 92 / H], sharex=ax)

fw, fv = np.array(boss_flux).T
pw, pv = np.array(pca_fit).T

for lo, hi in bel_masks:
    ax.axvspan(lo, hi, color="black", alpha=0.2, lw=0)
ax.axvspan(red_end_cut, 10600, facecolor="none", edgecolor="black", hatch="//////", lw=0)

ax.plot(fw, fv, color="black", lw=1.3)
ax.plot(pw, pv, color="red", lw=1.4)
ax.grid(True, color="#b0b0b0", lw=0.9)
ax.set_xlim(3556, 10380)
ax.set_ylim(1.55, 27.9)
ax.set_yticks([5, 10, 15, 20, 25])
ax.tick_params(labelbottom=False, labelsize=8.5)
ax.set_ylabel(r"Flux [$10^{-17} ergs^{-1} cm^{-2} \AA^{-1}$]", fontsize=11)
ax.set_title(TITLE, fontsize=9.5, pad=6)

handles = [
    Line2D([], [], color="black", lw=1.5),
    Line2D([], [], color="red", lw=1.5),
    Patch(facecolor="black", alpha=0.2, lw=0),
    Patch(facecolor="none", edgecolor="none"),
]
labels = ["BOSS Flux", "PCA template fit", "QSO BEL Mask", "Red-end cut"]
leg = ax.legend(handles, labels, loc="upper right", fontsize=7.7, framealpha=1.0,
                fancybox=False, edgecolor="white", borderaxespad=0.4)

# residual panel
ew, eh, el = np.array(resid_err).T
axr.fill_between(ew, -el, eh, color="red", alpha=0.5, lw=0)
for seg in (resid_blue, resid_lya, resid_civ, resid_red, resid_cut):
    rw, rv = np.array(seg).T
    axr.plot(rw, rv, ".", color="black", ms=3.0)
axr.grid(True, color="#b0b0b0", lw=0.9)
axr.set_ylim(-3, 3)
axr.set_yticks([-2, 0, 2])
axr.set_xticks([4000, 5000, 6000, 7000, 8000, 9000, 10000])
axr.tick_params(labelsize=8.5, pad=2.5)
axr.set_ylabel("PCA Residuals", fontsize=11)
axr.set_xlabel(r"Observed wavelength [$\AA$]", fontsize=10.5, labelpad=-1.2)

fig.savefig("out.png", dpi=100)
